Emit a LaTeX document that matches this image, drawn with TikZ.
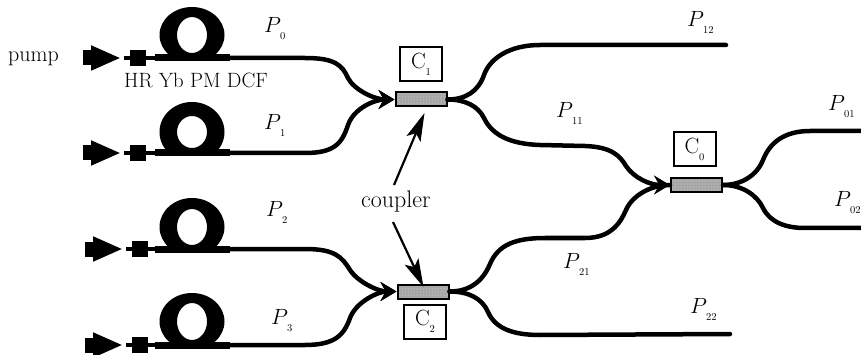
\documentclass[tikz,border=0pt]{standalone}
\usepackage{fix-cm}
\usetikzlibrary{arrows.meta,patterns}
\newcommand{\subtxt}[1]{\raisebox{-7pt}{\fontsize{10.5}{13}\selectfont #1}}
\newcommand{\Pl}[1]{\fontsize{22}{26}\selectfont$P$\kern-1pt\subtxt{#1}}
\newcommand{\Cl}[1]{\fontsize{22}{26}\selectfont C\subtxt{#1}}
\tikzset{
  fiber/.style={draw=black,line width=4.5pt,line cap=round},
  coilfiber/.style={draw=black,line width=7pt},
  tagtext/.style={inner sep=0pt,anchor=base west},
  lbox/.style={draw=black,line width=2pt,fill=white,minimum width=42pt,minimum height=34pt,inner sep=0pt},
  coupler/.style={draw=black,line width=2pt,minimum width=51pt,minimum height=14pt,inner sep=0pt,
     preaction={fill=gray!70},pattern=dots,pattern color=gray!20},
  sqr/.style={fill=black,minimum size=16pt,inner sep=0pt},
  merge/.style={fiber,-{Stealth[length=16pt,width=19pt]}},
  pointer/.style={draw=black,line width=2.2pt,-{Stealth[length=28pt,width=15pt,inset=6pt]}}
}
\begin{document}
\begin{tikzpicture}[x=1pt,y=-1pt]
\useasboundingbox (0,0) rectangle (861,355);
% pump branches
\foreach \n/\y/\c/\oy/\iy/\o in {0/58/35/28/18/0,1/153/132/30/16/0,2/249/227/29/18/2,3/345/321.5/28.5/18.5/2}{
  \begin{scope}
    \clip (150,\c-40) rectangle (235,\y);
    \fill[even odd rule,black] (192,\c) ellipse [x radius=32.5pt,y radius=\oy pt]
        (192,\c) ellipse [x radius=15pt,y radius=\iy pt];
  \end{scope}
  \node[sqr] (s\n) at (138+\o,\y) {};
  \coordinate (pa\n) at (83+\o,\y);
  \coordinate (pb\n) at (121+\o,\y);
  \coordinate (lead\n) at (124+\o,\y);
  \coordinate (ce\n) at (230,\y);
  \draw[black,line width=4.5pt] (lead\n) -- (s\n);
  \draw[black,line width=15pt,-{Triangle[length=30pt,width=23pt]}] (pa\n) -- (pb\n);
  \draw[black,line width=4.5pt] (s\n) -- (ce\n);
  \draw[coilfiber] (155,\y) -- (ce\n);
}
% couplers and boxes
\node[coupler] (c1) at (421,99.5) {};
\node[coupler] (c0) at (696.5,185) {};
\node[coupler] (c2) at (423,291.5) {};
\node[lbox] (b1) at (421,64.5) {\Cl{1}};
\node[lbox] (b0) at (694.5,149.5) {\Cl{0}};
\node[lbox] (b2) at (425,321.5) {\Cl{2}};
% free ends
\coordinate (e12) at (726,45);
\coordinate (e01) at (861,131);
\coordinate (e02) at (861,228);
\coordinate (e22) at (730,334);
% inputs to C1
\draw[merge] (ce0) -- (305,58) .. controls (335,58) and (342,65) .. (348,78)
   .. controls (354,90) and (375,99.5) .. (c1.west);
\draw[merge] (ce1) -- (305,153) .. controls (335,153) and (342,143) .. (348,125)
   .. controls (354,108) and (375,99.5) .. (c1.west);
% inputs to C2
\draw[merge] (ce2) -- (305,249) .. controls (335,249) and (342,257) .. (350,270)
   .. controls (358,282) and (378,291.5) .. (c2.west);
\draw[merge] (ce3) -- (305,345) .. controls (335,345) and (344,335) .. (350,318)
   .. controls (356,302) and (378,291.5) .. (c2.west);
% outputs of C1
\draw[fiber] (c1.east) .. controls (465,99.5) and (478,92) .. (484,75)
   .. controls (490,58) and (510,45) .. (540,45) -- (e12);
\draw[merge] (c1.east) .. controls (465,99.5) and (478,106) .. (484,118)
   .. controls (492,135) and (510,144) .. (540,145) -- (585,146)
   .. controls (612,147) and (620,156) .. (626,166)
   .. controls (634,178) and (650,185) .. (c0.west);
% outputs of C2
\draw[fiber] (c2.east) .. controls (468,291.5) and (482,283) .. (490,264)
   .. controls (498,245) and (515,238) .. (545,238) -- (585,238)
   .. controls (610,238) and (620,224) .. (626,210)
   .. controls (632,196) and (650,185) .. (c0.west);
\draw[fiber] (c2.east) .. controls (468,291.5) and (482,298) .. (488,312)
   .. controls (495,328) and (512,335) .. (540,335) -- (e22);
% outputs of C0
\draw[fiber] (c0.east) .. controls (742,185) and (757,175) .. (763,160)
   .. controls (770,142) and (785,131) .. (810,131) -- (e01);
\draw[fiber] (c0.east) .. controls (742,185) and (757,195) .. (763,208)
   .. controls (770,222) and (785,228) .. (805,228) -- (e02);
% labels
\node[tagtext] (pump) at (8,62) {\fontsize{22}{26}\selectfont pump};
\node[tagtext] (hr) at (124,88) {\fontsize{20.7}{25}\selectfont HR Yb PM DCF};
\node[tagtext] (lcoupler) at (361,208) {\fontsize{24}{28}\selectfont coupler};
\node[tagtext] (p0) at (264,33) {\Pl{0}};
\node[tagtext] (p1) at (264,130) {\Pl{1}};
\node[tagtext] (p2) at (266,217) {\Pl{2}};
\node[tagtext] (p3) at (271,324) {\Pl{3}};
\node[tagtext] (p12) at (687,27) {\Pl{12}};
\node[tagtext] (p11) at (556,118) {\Pl{11}};
\node[tagtext] (p21) at (563,268) {\Pl{21}};
\node[tagtext] (p22) at (690,313) {\Pl{22}};
\node[tagtext] (p01) at (828,111) {\Pl{01}};
\node[tagtext] (p02) at (834,207) {\Pl{02}};
% pointers
\coordinate (t1) at (424.5,113);
\coordinate (t2) at (423.5,287);
\coordinate (f1) at (394,185);
\coordinate (f2) at (393,222);
\draw[pointer] (f1) -- (t1);
\draw[pointer] (f2) -- (t2);
\end{tikzpicture}
\end{document}
